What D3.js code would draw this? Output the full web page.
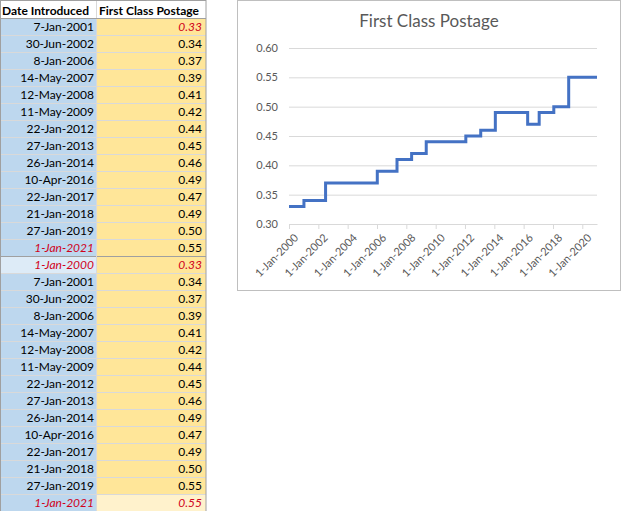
<!DOCTYPE html>
<html><head><meta charset="utf-8">
<script src="https://cdn.jsdelivr.net/npm/d3@7"></script>
<style>body{margin:0;background:#fff}svg{display:block}</style>
</head><body><svg id="c" width="622" height="511"></svg>
<script>
// ---- data ----
const headers = ["Date Introduced", "First Class Postage"];
const datesA = ["7-Jan-2001","30-Jun-2002","8-Jan-2006","14-May-2007","12-May-2008","11-May-2009","22-Jan-2012","27-Jan-2013","26-Jan-2014","10-Apr-2016","22-Jan-2017","21-Jan-2018","27-Jan-2019","1-Jan-2021"];
const valuesA = [0.33,0.34,0.37,0.39,0.41,0.42,0.44,0.45,0.46,0.49,0.47,0.49,0.50,0.55];
const datesB = ["1-Jan-2000","7-Jan-2001","30-Jun-2002","8-Jan-2006","14-May-2007","12-May-2008","11-May-2009","22-Jan-2012","27-Jan-2013","26-Jan-2014","10-Apr-2016","22-Jan-2017","21-Jan-2018","27-Jan-2019","1-Jan-2021"];
const valuesB = [0.33,0.34,0.37,0.39,0.41,0.42,0.44,0.45,0.46,0.49,0.47,0.49,0.50,0.55,0.55];
const yTicks = [0.30,0.35,0.40,0.45,0.50,0.55,0.60];
const xTickLabels = ["1-Jan-2000","1-Jan-2002","1-Jan-2004","1-Jan-2006","1-Jan-2008","1-Jan-2010","1-Jan-2012","1-Jan-2014","1-Jan-2016","1-Jan-2018","1-Jan-2020"];
const chartTitle = "First Class Postage";

// ---- drawing ----
const svg = d3.select("#c");
const parse = d3.timeParse("%-d-%b-%Y");
const fmt = d3.format(".2f");
const RED = "#d0021b";
const FONT = "Lato, 'Open Sans', sans-serif";

// table
const rows = datesA.map((d,i)=>({d, v: valuesA[i]}))
  .concat(datesB.map((d,i)=>({d, v: valuesB[i]})));
const redCells = new Set(["0-1","13-0","14-0","14-1","28-0","28-1"]);
const colX = [0, 97, 206];
const headH = 18, rowH = 17;
const tbl = svg.append("g");

tbl.append("rect").attr("x",0).attr("y",0).attr("width",206).attr("height",headH).attr("fill","#fff");
rows.forEach((r,i)=>{
  const y = headH + i*rowH;
  tbl.append("rect").attr("x",colX[0]).attr("y",y).attr("width",colX[1]-colX[0]).attr("height",rowH)
    .attr("fill", i===14 ? "#ddebf7" : "#bdd7ee");
  tbl.append("rect").attr("x",colX[1]).attr("y",y).attr("width",colX[2]-colX[1]).attr("height",rowH)
    .attr("fill", i===28 ? "#fff2cc" : "#ffe699");
});
rows.forEach((r,i)=>{
  if(i===0) return;
  const y = headH + i*rowH + 0.5;
  tbl.append("line").attr("x1",0).attr("x2",206).attr("y1",y).attr("y2",y)
    .attr("stroke", i===14 ? "#a0a0a0" : "#d9d9d9");
});
tbl.append("line").attr("x1",96.5).attr("x2",96.5).attr("y1",0).attr("y2",511).attr("stroke","#d9d9d9");
tbl.append("line").attr("x1",0).attr("x2",206).attr("y1",headH+0.5).attr("y2",headH+0.5).attr("stroke","#a0a0a0");
tbl.append("rect").attr("x",0.5).attr("y",0.5).attr("width",205.5).attr("height",511).attr("fill","none").attr("stroke","#a0a0a0");

headers.forEach((h,j)=>{
  tbl.append("text").attr("x",colX[j]+2).attr("y",14.5).text(h)
    .attr("font-family",FONT).attr("font-weight","bold").attr("font-size",12).attr("fill","#000");
});
rows.forEach((r,i)=>{
  const y = headH + i*rowH + 13;
  [r.d, fmt(r.v)].forEach((t,j)=>{
    const red = redCells.has(i+"-"+j);
    tbl.append("text").attr("x", j===0 ? 94 : 202).attr("y",y).attr("text-anchor","end").text(t)
      .attr("font-family",FONT).attr("font-size",12)
      .attr("font-style", red ? "italic" : "normal")
      .attr("fill", red ? RED : "#000");
  });
});

// chart
const ch = svg.append("g");
ch.append("rect").attr("x",237.5).attr("y",0.5).attr("width",383).attr("height",290)
  .attr("fill","#fff").attr("stroke","#bfbfbf");
ch.append("text").attr("x",429).attr("y",27).attr("text-anchor","middle").text(chartTitle)
  .attr("font-family",FONT).attr("font-size",17).attr("fill","#595959");

const x = d3.scaleTime().domain([parse("1-Jan-2000"), parse("1-Jan-2021")]).range([289, 597]);
const y = d3.scaleLinear().domain([0.30, 0.60]).range([224, 48]);

const gy = ch.append("g").attr("transform","translate(289,0)")
  .call(d3.axisLeft(y).tickValues(yTicks).tickFormat(fmt).tickSize(-308).tickPadding(11));
gy.select(".domain").remove();
gy.selectAll(".tick line").attr("stroke","#d9d9d9");
gy.selectAll(".tick text").attr("font-family",FONT).attr("font-size",11).attr("fill","#595959");

const gx = ch.append("g").attr("transform","translate(0,224)")
  .call(d3.axisBottom(x).tickValues(xTickLabels.map(parse)).tickFormat(d3.timeFormat("%-d-%b-%Y")).tickSize(5).tickSizeOuter(0));
gx.select(".domain").attr("stroke","#d9d9d9");
gx.selectAll(".tick line").attr("stroke","#d9d9d9");
gx.selectAll(".tick text").attr("font-family",FONT).attr("font-size",11).attr("fill","#595959")
  .attr("text-anchor","end").attr("transform","translate(4,9) rotate(-45)").attr("dy","0.35em").attr("y",4).attr("x",0);

const pts = datesB.map((d,i)=>[parse(d), valuesB[i]]);
ch.append("path").datum(pts)
  .attr("d", d3.line().x(d=>x(d[0])).y(d=>y(d[1])).curve(d3.curveStepAfter))
  .attr("fill","none").attr("stroke","#4472c4").attr("stroke-width",3);
</script></body></html>
